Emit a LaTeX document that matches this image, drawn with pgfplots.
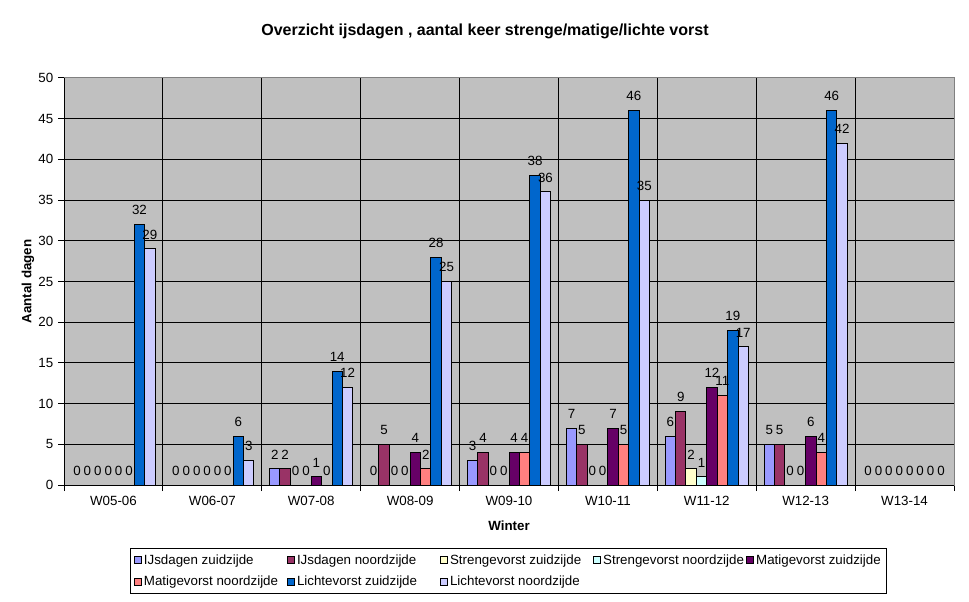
\documentclass[border=0pt]{standalone}
\usepackage{pgfplots}
\usepackage{pgfplotstable}
\pgfplotsset{compat=1.18}
\usepackage{fontspec}
\setmainfont{Liberation Sans}
\definecolor{cA}{HTML}{9999FF}
\definecolor{cB}{HTML}{993366}
\definecolor{cC}{HTML}{FFFFCC}
\definecolor{cD}{HTML}{CCFFFF}
\definecolor{cE}{HTML}{660066}
\definecolor{cF}{HTML}{FF8080}
\definecolor{cG}{HTML}{0066CC}
\definecolor{cH}{HTML}{CCCCFF}
\definecolor{bgg}{HTML}{C0C0C0}
\pgfplotstableread{
x IJz IJn Sz Sn Mz Mn Lz Ln
0 0 0 0 0 0 0 32 29
1 0 0 0 0 0 0 6 3
2 2 2 0 0 1 0 14 12
3 0 5 0 0 4 2 28 25
4 3 4 0 0 4 4 38 36
5 7 5 0 0 7 5 46 35
6 6 9 2 1 12 11 19 17
7 5 5 0 0 6 4 46 42
8 0 0 0 0 0 0 0 0
}\data
\newcommand{\lw}{106pt}
\begin{document}
\begin{tikzpicture}
\useasboundingbox (-48pt,-87.75pt) rectangle (678.75pt,363.75pt);
\begin{axis}[
  at={(0,0)}, anchor=south west,
  width=667.5pt, height=305.25pt, scale only axis,
  xmin=-0.5, xmax=8.5, ymin=0, ymax=50,
  ybar=0pt, bar width=0.10526,
  xtick={-0.5,0.5,...,8.5},
  x tick label as interval,
  xticklabels={W05-06,W06-07,W07-08,W08-09,W09-10,W10-11,W11-12,W12-13,W13-14},
  ytick={0,5,...,50},
  xtick pos=bottom, ytick pos=left,
  tick align=outside, major tick length=4.5pt,
  tick style={black,line width=0.75pt},
  xmajorgrids, ymajorgrids,
  grid style={black,line width=0.75pt},
  axis line style={draw=gray,line width=0.75pt},
  axis background/.style={fill=bgg},
  /pgf/number format/assume math mode=true,
  tick label style={font=\fontsize{10}{12}\selectfont, black},
  nodes near coords,
  every node near coord/.append style={font=\fontsize{10}{12}\selectfont, black, yshift=3.5pt},
  title={Overzicht ijsdagen , aantal keer strenge/matige/lichte vorst},
  title style={font=\fontsize{12}{14}\selectfont\bfseries, at={(axis description cs:0.473,1.094)}, anchor=center},
  xlabel={Winter},
  ylabel={Aantal dagen},
  xlabel style={font=\fontsize{10}{12}\selectfont\bfseries, at={(axis description cs:0.5,-0.1007)}, anchor=center},
  ylabel style={font=\fontsize{10}{12}\selectfont\bfseries, at={(axis description cs:-0.0404,0.5)}, anchor=center, rotate=0},
  legend columns=5,
  legend cell align=left,
  legend image code/.code={\draw[#1,draw=black,line width=0.6pt] (0pt,-2.6pt) rectangle (5.2pt,2.6pt);},
  legend style={at={(axis description cs:0.4994,-0.1548)}, anchor=north,
    draw=black, line width=0.75pt, fill=white,
    font=\fontsize{10}{12}\selectfont,
    inner xsep=3pt, inner ysep=2.5pt,
    row sep=3.5pt,
    nodes={inner xsep=1.5pt}},
  after end axis/.code={\draw[black,line width=0.75pt] (rel axis cs:0,1) -- (rel axis cs:0,0) -- (rel axis cs:1,0);},
]
\addplot[fill=cA,draw=black,line width=0.75pt] table[x=x,y=IJz]{\data};
\addlegendentry{\makebox[\lw][l]{IJsdagen zuidzijde}}
\addplot[fill=cB,draw=black,line width=0.75pt] table[x=x,y=IJn]{\data};
\addlegendentry{\makebox[\lw][l]{IJsdagen noordzijde}}
\addplot[fill=cC,draw=black,line width=0.75pt] table[x=x,y=Sz]{\data};
\addlegendentry{\makebox[\lw][l]{Strengevorst zuidzijde}}
\addplot[fill=cD,draw=black,line width=0.75pt] table[x=x,y=Sn]{\data};
\addlegendentry{\makebox[\lw][l]{Strengevorst noordzijde}}
\addplot[fill=cE,draw=black,line width=0.75pt] table[x=x,y=Mz]{\data};
\addlegendentry{Matigevorst zuidzijde}
\addplot[fill=cF,draw=black,line width=0.75pt] table[x=x,y=Mn]{\data};
\addlegendentry{\makebox[\lw][l]{Matigevorst noordzijde}}
\addplot[fill=cG,draw=black,line width=0.75pt] table[x=x,y=Lz]{\data};
\addlegendentry{\makebox[\lw][l]{Lichtevorst zuidzijde}}
\addplot[fill=cH,draw=black,line width=0.75pt] table[x=x,y=Ln]{\data};
\addlegendentry{\makebox[\lw][l]{Lichtevorst noordzijde}}
\end{axis}
\end{tikzpicture}
\end{document}
